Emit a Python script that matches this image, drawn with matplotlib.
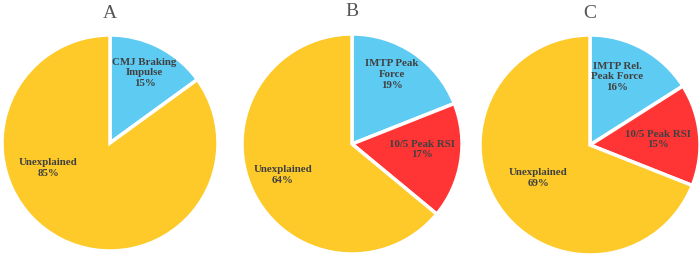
import matplotlib.pyplot as plt

# shares of explained variance
titles = ["A", "B", "C"]
labels_a = ["CMJ Braking\nImpulse", "Unexplained"]
values_a = [15, 85]
labels_b = ["IMTP Peak\nForce", "10/5 Peak RSI", "Unexplained"]
values_b = [19, 17, 64]
labels_c = ["IMTP Rel.\nPeak Force", "10/5 Peak RSI", "Unexplained"]
values_c = [16, 15, 69]

blue = "#5ECBF3"
red = "#FF3535"
yellow = "#FDCA2A"

plt.rcParams["font.family"] = ["Liberation Serif", "DejaVu Serif"]

fig = plt.figure(figsize=(7, 2.56), dpi=100)
ax = fig.add_axes([0, 0, 1, 1])

# pie centre (x, y from top), radius, label offsets in radius units
pies = [
    (values_a, labels_a, [blue, yellow], (110, 143), 108,
     [(0.32, 0.65), (-0.57, -0.23)], 13),
    (values_b, labels_b, [blue, red, yellow], (352, 144), 110,
     [(0.36, 0.63), (0.64, -0.05), (-0.63, -0.28)], 11),
    (values_c, labels_c, [blue, red, yellow], (590, 145), 110,
     [(0.25, 0.62), (0.62, 0.05), (-0.47, -0.30)], 13),
]

for (vals, labs, cols, (cx, cy), r, offs, ty), title in zip(pies, titles):
    cy_d = 256 - cy
    explode = [0.035] * (len(vals) - 1) + [0]
    ax.pie(vals, colors=cols, startangle=90, counterclock=False,
           center=(cx, cy_d), radius=r, explode=explode,
           wedgeprops=dict(edgecolor="white", linewidth=2.5),
           frame=True)
    for v, lab, (ox, oy) in zip(vals, labs, offs):
        ax.text(cx + ox * r, cy_d + oy * r, f"{lab}\n{v}%",
                ha="center", va="center", fontsize=7.8, fontweight="bold",
                color="#404040", linespacing=1.25)
    ax.text(cx, 256 - ty, title, ha="center", va="center",
            fontsize=14, color="#555555")

ax.set_xlim(0, 700)
ax.set_ylim(0, 256)
ax.set_aspect("equal")
ax.axis("off")
fig.savefig("out.png", dpi=100)
